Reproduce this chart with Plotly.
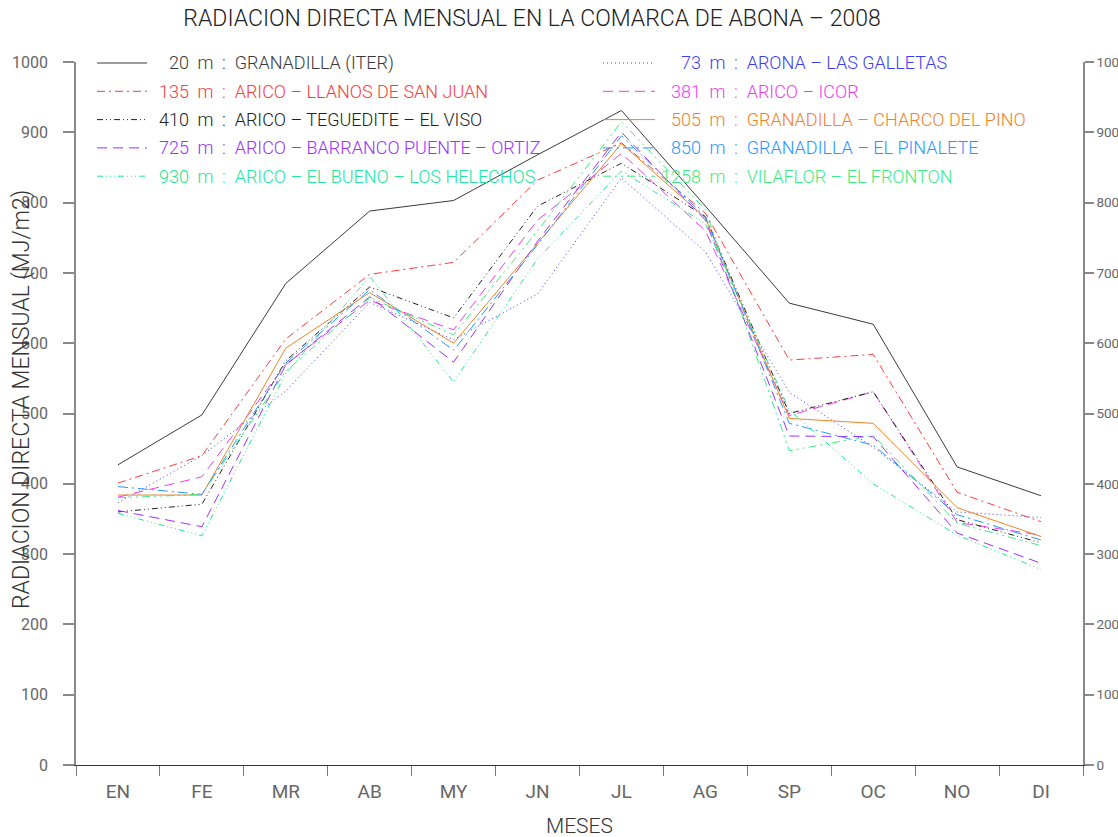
import plotly.graph_objects as go

# Monthly direct radiation (MJ/m2), Abona district, 2008
meses = ["EN", "FE", "MR", "AB", "MY", "JN", "JL", "AG", "SP", "OC", "NO", "DI"]

granadilla_iter_20 = [427, 498, 685, 788, 803, 868, 931, 795, 657, 627, 424, 383]
arona_galletas_73 = [373, 440, 532, 658, 605, 670, 835, 730, 530, 452, 360, 352]
arico_llanos_135 = [401, 440, 606, 698, 715, 832, 885, 785, 576, 584, 388, 346]
arico_icor_381 = [381, 410, 570, 661, 619, 775, 870, 760, 497, 531, 345, 327]
arico_teguedite_410 = [360, 371, 575, 680, 636, 795, 856, 780, 500, 531, 349, 316]
granadilla_charco_505 = [384, 384, 593, 672, 600, 742, 884, 778, 493, 486, 366, 325]
arico_barranco_725 = [362, 339, 569, 666, 573, 745, 900, 775, 468, 467, 330, 287]
granadilla_pinalete_850 = [396, 385, 572, 676, 590, 740, 895, 780, 486, 455, 356, 320]
arico_bueno_930 = [358, 326, 557, 695, 545, 720, 845, 770, 505, 400, 327, 278]
vilaflor_fronton_1258 = [380, 385, 560, 665, 612, 760, 915, 790, 447, 469, 344, 312]

altitudes = ["20", "73", "135", "381", "410", "505", "725", "850", "930", "1258"]
nombres = [
    "GRANADILLA (ITER)",
    "ARONA – LAS GALLETAS",
    "ARICO – LLANOS DE SAN JUAN",
    "ARICO – ICOR",
    "ARICO – TEGUEDITE – EL VISO",
    "GRANADILLA – CHARCO DEL PINO",
    "ARICO – BARRANCO PUENTE – ORTIZ",
    "GRANADILLA – EL PINALETE",
    "ARICO – EL BUENO – LOS HELECHOS",
    "VILAFLOR – EL FRONTON",
]
series = [
    granadilla_iter_20, arona_galletas_73, arico_llanos_135, arico_icor_381,
    arico_teguedite_410, granadilla_charco_505, arico_barranco_725,
    granadilla_pinalete_850, arico_bueno_930, vilaflor_fronton_1258,
]
colores = [
    "#3a3a3a", "#3c3cf5", "#fa3c3c", "#f03cf0", "#222222",
    "#f08228", "#9b30ff", "#2896ff", "#22e69a", "#3ceb82",
]
estilos = [
    "solid", "1px,3px", "8px,4px,2px,4px", "10px,6px",
    "6px,3px,1px,3px,1px,3px", "solid", "10px,6px",
    "10px,4px,2px,4px", "6px,3px,1px,3px,1px,3px,1px,3px",
    "8px,4px,2px,4px,2px,4px",
]

FONT = "Roboto"
TICKFONT = "Liberation Sans Narrow, Roboto"
W, H = 1118, 837
L, R, T, B = 76, 35, 62, 72
PW, PH = W - L - R, H - T - B


def px_x(p):
    return (p - L) / PW


def px_y(p):
    return (H - B - p) / PH


fig = go.Figure()
for i, (vals, col, dash) in enumerate(zip(series, colores, estilos)):
    fig.add_trace(go.Scatter(
        x=meses, y=vals, mode="lines",
        line=dict(color=col, width=1, dash=dash),
        showlegend=False, hoverinfo="skip",
        # the first station sits on the right-hand copy of the value axis
        yaxis="y2" if i == 0 else "y",
    ))

# Two-column key drawn inside the plot area
shapes = []
annotations = []
NB = "\u00a0"
for i, (alt, nom, col, dash) in enumerate(zip(altitudes, nombres, colores, estilos)):
    column, row = i % 2, i // 2
    yrow = 63 + row * 28.3
    x0, x1, xnum = (97, 147, 191) if column == 0 else (603, 655, 703)
    shapes.append(dict(
        type="line", xref="paper", yref="paper",
        x0=px_x(x0), x1=px_x(x1), y0=px_y(yrow), y1=px_y(yrow),
        line=dict(color=col, width=1, dash=dash),
    ))
    annotations.append(dict(
        xref="paper", yref="paper", x=px_x(xnum), y=px_y(yrow),
        xanchor="right", yanchor="middle", text=alt, showarrow=False,
        font=dict(family=FONT, size=18, color=col, weight=300),
    ))
    annotations.append(dict(
        xref="paper", yref="paper", x=px_x(xnum), y=px_y(yrow),
        xanchor="left", yanchor="middle",
        text=NB + "m" + NB * 2 + ":" + NB * 2 + nom,
        showarrow=False,
        font=dict(family=FONT, size=18, color=col, weight=300),
    ))

annotations.append(dict(
    xref="paper", yref="paper", x=px_x(21), y=px_y(400), textangle=-90,
    xanchor="center", yanchor="middle", showarrow=False,
    text="RADIACION DIRECTA MENSUAL (MJ/m2)",
    font=dict(family=FONT, size=23, color="#333", weight=300),
))
annotations.append(dict(
    xref="paper", yref="paper", x=px_x(579), y=px_y(826),
    xanchor="center", yanchor="middle", showarrow=False, text="MESES",
    font=dict(family=FONT, size=21, color="#333", weight=300),
))

yaxis_common = dict(
    range=[0, 1000], dtick=100, showgrid=False, zeroline=False,
    showline=True, linecolor="#888", linewidth=1.5,
    ticks="outside", tickcolor="#888", tickwidth=1.5,
    automargin=False,
)

fig.update_layout(
    width=W, height=H,
    margin=dict(l=L, r=R, t=T, b=B, pad=0),
    paper_bgcolor="white", plot_bgcolor="white",
    title=dict(
        text="RADIACION DIRECTA MENSUAL EN LA COMARCA DE ABONA – 2008",
        x=532 / W, xanchor="center", y=1 - 18 / H, yanchor="middle",
        font=dict(family=FONT, size=23, color="#222", weight=300),
    ),
    xaxis=dict(
        type="category", range=[-0.5, 11.5], tickson="boundaries",
        showgrid=False, zeroline=False, showline=True,
        linecolor="#333", linewidth=1.2,
        ticks="outside", ticklen=10, tickcolor="#777", tickwidth=1,
        ticklabelstandoff=9, automargin=False,
        tickfont=dict(family=TICKFONT, size=19, color="#666"),
    ),
    yaxis=dict(ticklen=11, ticklabelstandoff=12,
               tickfont=dict(family=TICKFONT, size=16, color="#666"),
               **yaxis_common),
    yaxis2=dict(overlaying="y", side="right", ticklen=9, ticklabelstandoff=0,
                tickfont=dict(family=TICKFONT, size=13.5, color="#666"),
                **yaxis_common),
    shapes=shapes,
    annotations=annotations,
)

fig.write_html("out.html")
